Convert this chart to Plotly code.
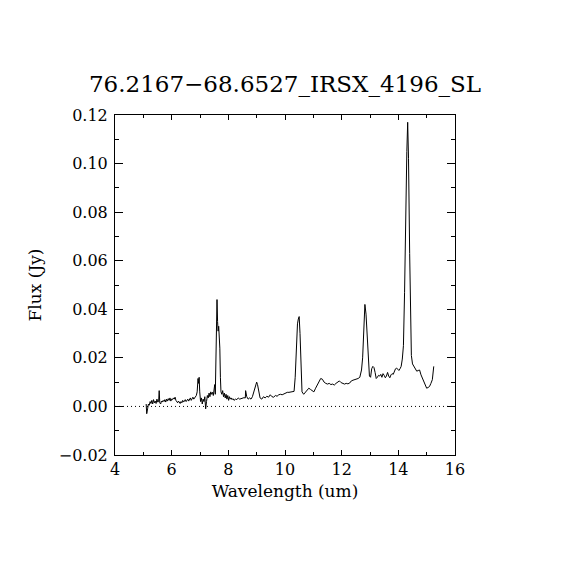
import plotly.graph_objects as go

wavelength = [
    5.10, 5.12, 5.15, 5.18, 5.21, 5.24, 5.27, 5.30, 5.33, 5.36, 5.39, 5.42, 5.45, 5.48,
    5.51, 5.54, 5.56, 5.58, 5.61, 5.64, 5.67, 5.70, 5.73, 5.76, 5.79, 5.82, 5.85, 5.88,
    5.91, 5.94, 5.97, 6.00, 6.03, 6.06, 6.09, 6.12, 6.15, 6.18, 6.21, 6.24, 6.27, 6.30,
    6.33, 6.36, 6.39, 6.42, 6.45, 6.48, 6.51, 6.54, 6.57, 6.60, 6.63, 6.66, 6.69, 6.72,
    6.75, 6.78, 6.81, 6.84, 6.87, 6.90, 6.93, 6.95, 6.97, 6.99, 7.02, 7.05, 7.08, 7.11,
    7.14, 7.17, 7.20, 7.23, 7.26, 7.29, 7.32, 7.35, 7.38, 7.41, 7.44, 7.47, 7.50, 7.52,
    7.54, 7.56, 7.58, 7.60, 7.62, 7.64, 7.66, 7.68, 7.70, 7.72, 7.74, 7.77, 7.80, 7.83,
    7.86, 7.89, 7.92, 7.95, 7.98, 8.01, 8.04, 8.07, 8.10, 8.13, 8.16, 8.20, 8.25, 8.30,
    8.35, 8.40, 8.45, 8.50, 8.55, 8.60, 8.61, 8.65, 8.70, 8.75, 8.80, 8.85, 8.90, 8.95,
    9.00, 9.03, 9.07, 9.12, 9.18, 9.24, 9.30, 9.36, 9.42, 9.48, 9.54, 9.60, 9.66, 9.72,
    9.78, 9.84, 9.90, 9.96, 10.02, 10.08, 10.14, 10.20, 10.26, 10.32, 10.36, 10.40, 10.44,
    10.47, 10.50, 10.53, 10.56, 10.60, 10.66, 10.72, 10.78, 10.84, 10.90, 10.96, 11.02,
    11.08, 11.14, 11.20, 11.26, 11.32, 11.38, 11.44, 11.50, 11.56, 11.62, 11.68, 11.74,
    11.80, 11.86, 11.92, 11.98, 12.04, 12.10, 12.16, 12.22, 12.28, 12.34, 12.40, 12.46,
    12.52, 12.58, 12.64, 12.70, 12.74, 12.78, 12.82, 12.86, 12.90, 12.94, 12.98, 13.02,
    13.06, 13.10, 13.14, 13.18, 13.22, 13.26, 13.30, 13.34, 13.38, 13.42, 13.46, 13.50,
    13.54, 13.58, 13.62, 13.66, 13.70, 13.74, 13.78, 13.82, 13.86, 13.90, 13.94, 13.98,
    14.02, 14.06, 14.10, 14.14, 14.18, 14.22, 14.26, 14.30, 14.33, 14.36, 14.40, 14.43,
    14.46, 14.50, 14.55, 14.60, 14.65, 14.70, 14.75, 14.80, 14.85, 14.90, 14.95, 15.00,
    15.05, 15.10, 15.15, 15.20, 15.25,
]

flux = [
    0.0010, -0.0030, -0.0010, 0.0010, 0.0005, 0.0020, 0.0012, 0.0025, 0.0010, 0.0028, 0.0015, 0.0022, 0.0012, 0.0030,
    0.0018, 0.0020, 0.0065, 0.0015, 0.0010, 0.0022, 0.0018, 0.0025, 0.0020, 0.0028, 0.0018, 0.0030, 0.0022, 0.0032,
    0.0025, 0.0035, 0.0022, 0.0030, 0.0028, 0.0035, 0.0030, 0.0038, 0.0025, 0.0020, 0.0015, 0.0022, 0.0018, 0.0012,
    0.0020, 0.0015, 0.0025, 0.0018, 0.0022, 0.0028, 0.0020, 0.0025, 0.0030, 0.0022, 0.0028, 0.0035, 0.0025, 0.0030,
    0.0038, 0.0030, 0.0035, 0.0040, 0.0045, 0.0060, 0.0115, 0.0095, 0.0120, 0.0060, 0.0020, 0.0035, 0.0010, 0.0030,
    0.0020, 0.0040, -0.0010, 0.0020, 0.0045, 0.0035, 0.0055, 0.0040, 0.0060, 0.0050, 0.0058, 0.0045, 0.0075, 0.0090,
    0.0050, 0.0240, 0.0300, 0.0440, 0.0350, 0.0310, 0.0330, 0.0280, 0.0240, 0.0120, 0.0060, 0.0050, 0.0065, 0.0040,
    0.0055, 0.0035, 0.0050, 0.0030, 0.0045, 0.0025, 0.0040, 0.0030, 0.0035, 0.0028, 0.0032, 0.0025, 0.0030, 0.0028,
    0.0035, 0.0030, 0.0032, 0.0035, 0.0036, 0.0035, 0.0065, 0.0040, 0.0030, 0.0035, 0.0030, 0.0040, 0.0060, 0.0085,
    0.0100, 0.0090, 0.0060, 0.0035, 0.0030, 0.0040, 0.0035, 0.0042, 0.0038, 0.0048, 0.0040, 0.0038, 0.0045, 0.0042,
    0.0048, 0.0050, 0.0048, 0.0052, 0.0055, 0.0058, 0.0058, 0.0060, 0.0060, 0.0062, 0.0120, 0.0250, 0.0340,
    0.0360, 0.0370, 0.0300, 0.0180, 0.0060, 0.0050, 0.0058, 0.0065, 0.0075, 0.0070, 0.0065, 0.0060,
    0.0075, 0.0090, 0.0105, 0.0115, 0.0112, 0.0100, 0.0095, 0.0092, 0.0095, 0.0090, 0.0092, 0.0088,
    0.0095, 0.0100, 0.0105, 0.0098, 0.0095, 0.0092, 0.0095, 0.0093, 0.0096, 0.0105, 0.0108, 0.0110,
    0.0112, 0.0115, 0.0120, 0.0150, 0.0200, 0.0320, 0.0420, 0.0380, 0.0280, 0.0180, 0.0125, 0.0120,
    0.0155, 0.0165, 0.0160, 0.0140, 0.0115, 0.0120, 0.0128, 0.0125, 0.0132, 0.0120, 0.0135, 0.0128,
    0.0118, 0.0125, 0.0140, 0.0125, 0.0118, 0.0130, 0.0135, 0.0132, 0.0145, 0.0155, 0.0158, 0.0150,
    0.0148, 0.0155, 0.0165, 0.0195, 0.0250, 0.0470, 0.0810, 0.1050, 0.1170, 0.1020, 0.0630, 0.0360,
    0.0210, 0.0175, 0.0165, 0.0160, 0.0145, 0.0148, 0.0150, 0.0130, 0.0115, 0.0100, 0.0085, 0.0075,
    0.0078, 0.0082, 0.0095, 0.0110, 0.0165,
]

title_text = "76.2167\u221268.6527_IRSX_4196_SL"
x_title = "Wavelength (um)"
y_title = "Flux (Jy)"
x_range = [4, 16]
y_range = [-0.02, 0.12]

FONT = "DejaVu Serif"
W = 562
H = 562

fig = go.Figure()
fig.add_trace(go.Scatter(
    x=wavelength, y=flux, mode="lines",
    line=dict(color="black", width=1),
    showlegend=False, hoverinfo="skip",
))

# dotted zero line
fig.add_shape(type="line", xref="x", yref="y", x0=x_range[0], x1=x_range[1], y0=0, y1=0,
              line=dict(color="black", width=1, dash="1px,3px"))

fig.update_layout(
    width=W, height=H,
    margin=dict(l=107, r=115, t=107, b=115, autoexpand=False),
    paper_bgcolor="white", plot_bgcolor="white",
    font=dict(family=FONT, color="black", size=16),
    title=dict(text=title_text, x=(107 + 170) / W, xanchor="center", xref="container",
               y=1 - 76 / H, yanchor="middle",
               font=dict(family=FONT, size=23, color="black")),
)

fig.update_xaxes(
    range=x_range, dtick=2, tick0=4,
    ticks="inside", ticklen=5, tickwidth=1, tickcolor="black",
    showline=True, linecolor="black", linewidth=1, mirror="ticks",
    showgrid=False, zeroline=False,
    minor=dict(dtick=1, tick0=4, ticks="inside", ticklen=3, tickcolor="black", showgrid=False),
    tickfont=dict(family=FONT, size=16, color="black"),
    title=dict(text=x_title, font=dict(family=FONT, size=17, color="black"), standoff=6),
)
fig.update_yaxes(
    range=y_range, dtick=0.02, tick0=0, tickformat=".2f",
    ticks="inside", ticklen=8, tickwidth=1, tickcolor="black",
    showline=True, linecolor="black", linewidth=1, mirror="ticks",
    showgrid=False, zeroline=False, ticklabelstandoff=3,
    minor=dict(dtick=0.01, tick0=0, ticks="inside", ticklen=4, tickcolor="black", showgrid=False),
    tickfont=dict(family=FONT, size=16, color="black"),
    title=dict(text=y_title, font=dict(family=FONT, size=17, color="black"), standoff=12),
)

fig.write_html("out.html")
